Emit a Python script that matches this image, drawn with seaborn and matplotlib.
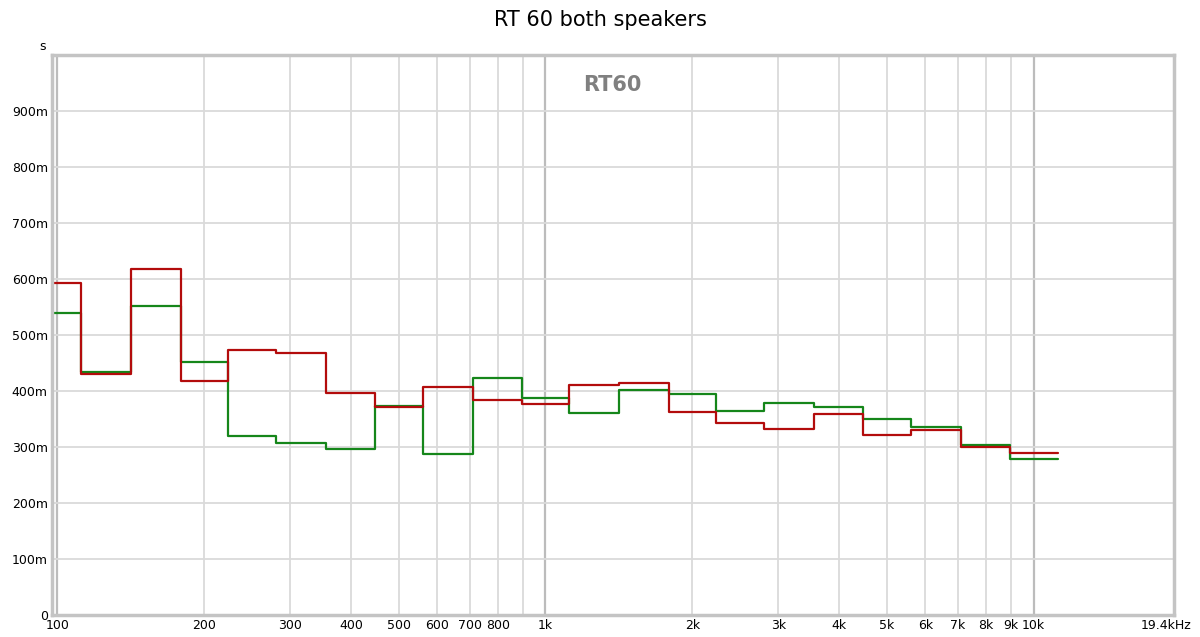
import numpy as np
import pandas as pd
import matplotlib
matplotlib.use('Agg')
import matplotlib.pyplot as plt
import matplotlib.transforms as mtransforms
import seaborn as sns

# 1/3 octave band centres (Hz) and RT60 values (s)
bands = [100, 125, 160, 200, 250, 315, 400, 500, 630, 800, 1000, 1250, 1600,
         2000, 2500, 3150, 4000, 5000, 6300, 8000, 10000]
rt60_red = [0.593, 0.431, 0.618, 0.417, 0.474, 0.467, 0.397, 0.371, 0.408, 0.384,
            0.377, 0.411, 0.415, 0.363, 0.342, 0.333, 0.359, 0.322, 0.330, 0.300,
            0.289]
rt60_green = [0.539, 0.434, 0.552, 0.452, 0.320, 0.308, 0.296, 0.374, 0.287, 0.424,
              0.388, 0.360, 0.402, 0.395, 0.364, 0.378, 0.371, 0.350, 0.335, 0.304,
              0.278]

tick_vals = [100, 200, 300, 400, 500, 600, 700, 800, 1000, 2000, 3000, 4000, 5000,
             6000, 7000, 8000, 9000, 10000, 19400]
tick_text = ['100', '200', '300', '400', '500', '600', '700', '800', '1k', '2k', '3k',
             '4k', '5k', '6k', '7k', '8k', '9k', '10k', '19.4kHz']
grid_freqs = [100, 200, 300, 400, 500, 600, 700, 800, 900, 1000, 2000, 3000, 4000,
              5000, 6000, 7000, 8000, 9000, 10000]

# band edges: shared between neighbouring bands so the steps are vertical
c = np.array(bands, dtype=float)
edges = np.concatenate([[c[0] / 10 ** 0.05], np.sqrt(c[:-1] * c[1:]), [c[-1] * 10 ** 0.05]])

rows = []
for name, vals in [('red', rt60_red), ('green', rt60_green)]:
    for i, v in enumerate(vals):
        rows.append((name, edges[i], v))
        rows.append((name, edges[i + 1], v))
df = pd.DataFrame(rows, columns=['speaker', 'freq', 'rt60'])

sns.set_style('white')
plt.rcParams['font.family'] = ['DejaVu Sans']
plt.rcParams['text.color'] = 'black'
plt.rcParams['xtick.color'] = 'black'
plt.rcParams['ytick.color'] = 'black'

fig = plt.figure(figsize=(12, 6.37), dpi=100)
ax = fig.add_axes([52 / 1200, 1 - 615 / 637, 1122 / 1200, 560 / 637])

for f in grid_freqs:
    dec = f in (100, 1000, 10000)
    ax.axvline(f, color='#bcbcbc' if dec else '#dadada', lw=1.6 if dec else 1.3, zorder=0)
for yv in np.arange(0.1, 1.0, 0.1):
    ax.axhline(yv, color='#dadada', lw=1.3, zorder=0)

sns.lineplot(data=df, x='freq', y='rt60', hue='speaker', units='speaker',
             estimator=None, sort=False, legend=False, ax=ax, lw=1.6,
             palette={'red': '#b30c0c', 'green': '#15861a'},
             hue_order=['green', 'red'])

ax.set_xscale('log')
ax.set_xlim(97.5, 19400)
ax.set_ylim(0, 1.0)
ax.set_xticks(tick_vals)
ax.set_xticklabels(tick_text, fontsize=9)
ax.minorticks_off()
ax.set_yticks(np.arange(0, 1.0, 0.1))
ax.set_yticklabels(['0'] + ['%dm' % v for v in range(100, 1000, 100)], fontsize=9)
ax.tick_params(length=0, pad=3)
last = ax.get_xticklabels()[-1]
last.set_transform(last.get_transform() + mtransforms.ScaledTranslation(-8 / 100, 0, fig.dpi_scale_trans))
ax.set_xlabel('')
ax.set_ylabel('')
for s in ax.spines.values():
    s.set_color('#c4c4c4')
    s.set_linewidth(2.5)

fig.text(0.5, 1 - 20 / 637, 'RT 60 both speakers', ha='center', va='center', fontsize=15)
fig.text(43 / 1200, 1 - 46 / 637, 's', ha='center', va='center', fontsize=9)
ax.text(0.499, 0.965, 'RT60', transform=ax.transAxes, ha='center', va='top',
        fontsize=15, fontweight='bold', color='#808080')

fig.savefig('out.png', dpi=100)
